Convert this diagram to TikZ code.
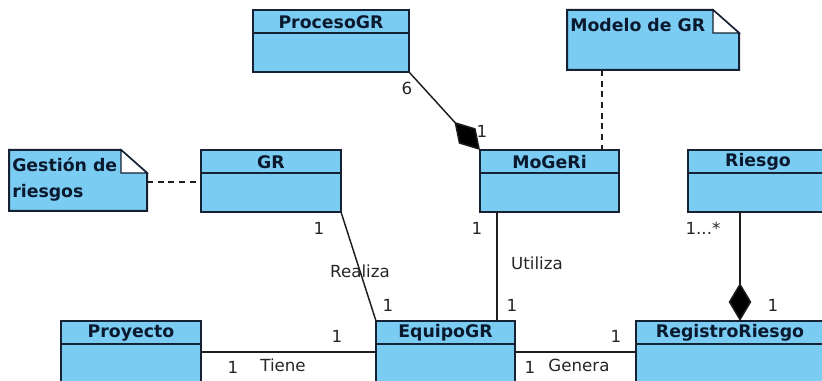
\documentclass[tikz,border=0pt]{standalone}
\usepackage{fontspec}
\setmainfont{DejaVu Sans}
\usetikzlibrary{arrows.meta}
\definecolor{clsfill}{RGB}{122,204,242}
\definecolor{clsline}{RGB}{22,34,52}
\definecolor{clstext}{RGB}{10,25,45}
\definecolor{assoc}{RGB}{30,30,30}
\tikzset{
  clsbox/.style={draw=clsline, fill=clsfill, line width=1.5pt, minimum height=46.5pt,
    inner sep=0pt, outer sep=0pt, anchor=north west},
  clstitle/.style={font=\fontsize{13}{19.5}\selectfont\bfseries, text=clstext, inner sep=0pt},
  notebox/.style={draw=clsline, fill=clsfill, line width=1.5pt, line join=miter},
  notefold/.style={draw=clsline, fill=white, line width=1pt},
  lbl/.style={font=\fontsize{12.5}{14}\selectfont, text=black!85, inner sep=0pt},
  assocline/.style={draw=assoc, line width=1.1pt},
  noteline/.style={assocline, dash pattern=on 4.5pt off 3.5pt},
  comp/.style={assocline, {Diamond[length=28.5pt, width=17pt, fill=black]}-},
}
\newcommand{\umlclass}[5]{%
  \node[clsbox, minimum width=#4*0.75pt] (#1) at (#2,#3) {};
  \draw[draw=clsline, line width=1.5pt] ([yshift=-17.25pt]#1.north west) -- ([yshift=-17.25pt]#1.north east);
  \node[clstitle] (#1t) at ([yshift=-8.9pt]#1.north) {#5};
}
\newcommand{\umlnote}[5]{%
  \node[inner sep=0pt, outer sep=0pt, minimum width=#4*0.75pt, minimum height=#5*0.75pt,
    anchor=north west] (#1) at (#2,#3) {};
  \filldraw[notebox] (#1.north west) -- ([xshift=-19.5pt]#1.north east) -- ([yshift=-17.25pt]#1.north east)
    -- (#1.south east) -- (#1.south west) -- cycle;
  \filldraw[notefold] ([xshift=-19.5pt]#1.north east) -- ([xshift=-19.5pt,yshift=-17.25pt]#1.north east)
    -- ([yshift=-17.25pt]#1.north east) -- cycle;
}

\begin{document}
\begin{tikzpicture}[x=0.75pt, y=-0.75pt]
  \useasboundingbox (0,0) rectangle (822,381);
  \clip (0,0) rectangle (822,381);

  \umlnote{mod}{567}{10}{172}{60}
  \node[clstitle, anchor=base west] (modt) at (570,32) {Modelo de GR};
  \umlnote{gest}{9}{150}{138}{61}
  \node[clstitle, anchor=north west, align=left] (gestt) at (12,157) {Gestión de\\riesgos};

  \umlclass{proc}{253}{10}{156}{ProcesoGR}
  \umlclass{gr}{201}{150}{140}{GR}
  \umlclass{mog}{480}{150}{139}{MoGeRi}
  \umlclass{rie}{688}{150}{140}{Riesgo}
  \umlclass{proy}{61}{321}{140}{Proyecto}
  \umlclass{eq}{376}{321}{139}{EquipoGR}
  \umlclass{reg}{636}{321}{188}{RegistroRiesgo}

  \draw[comp] (mog.north west) -- (proc.south east);
  \draw[noteline] ([yshift=-24pt]gest.north east) -- ([yshift=-24pt]gr.north west);
  \draw[noteline] ([xshift=26.25pt]mod.south west) -- ([xshift=26.25pt]mod.south west |- mog.north);
  \draw[assocline] (gr.south east) -- (eq.north west);
  \draw[assocline] ([xshift=12.75pt]mog.south west) -- ([xshift=12.75pt]mog.south west |- eq.north);
  \draw[comp] ([xshift=39pt]rie.south west |- reg.north) -- ([xshift=39pt]rie.south west);
  \draw[assocline] ([yshift=-23.25pt]proy.north east) -- ([yshift=-23.25pt]eq.north west);
  \draw[assocline] ([yshift=-23.25pt]eq.north east) -- ([yshift=-23.25pt]reg.north west);

  \node[lbl] (pm1) at (407,88) {6};
  \node[lbl] (pm2) at (482,131) {1};
  \node[lbl] (ge1) at (319,228) {1};
  \node[lbl] (ge0) at (360,271) {Realiza};
  \node[lbl] (ge2) at (388,305) {1};
  \node[lbl] (me1) at (477,228) {1};
  \node[lbl] (me0) at (537,263) {Utiliza};
  \node[lbl] (me2) at (512,305) {1};
  \node[lbl] (rr1) at (703,228) {1...*};
  \node[lbl] (rr2) at (773,305) {1};
  \node[lbl] (pe1) at (337,336) {1};
  \node[lbl] (pe2) at (233,367) {1};
  \node[lbl] (pe0) at (283,365) {Tiene};
  \node[lbl] (er1) at (616,336) {1};
  \node[lbl] (er2) at (530,367) {1};
  \node[lbl] (er0) at (579,365) {Genera};
\end{tikzpicture}
\end{document}
